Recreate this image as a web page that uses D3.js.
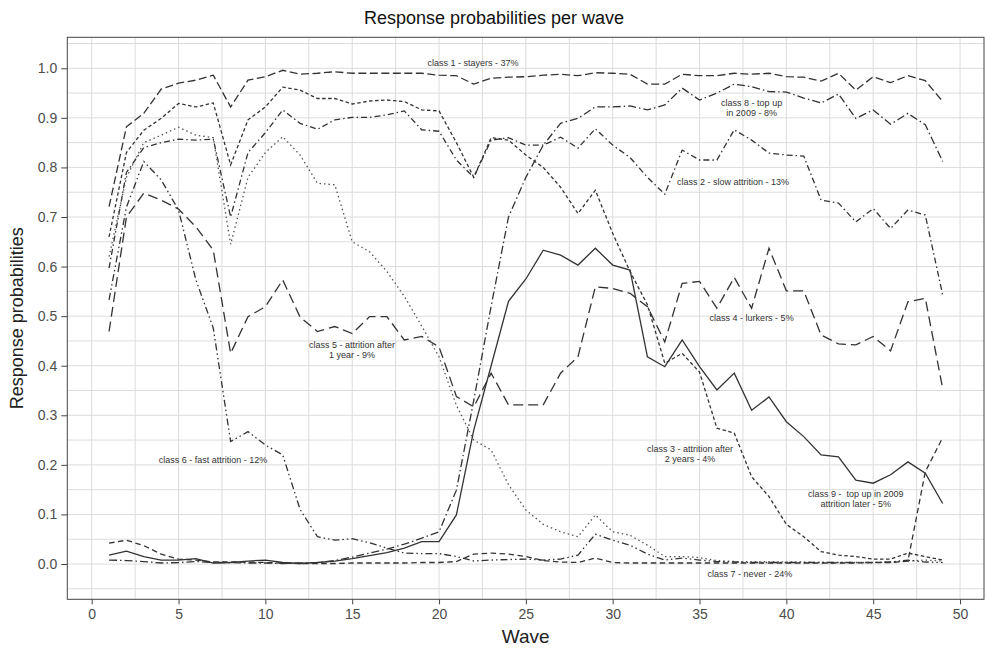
<!DOCTYPE html>
<html><head><meta charset="utf-8">
<script src="https://cdn.jsdelivr.net/npm/d3@7"></script>
<style>body{margin:0;background:#fff}svg{display:block}</style>
</head><body>
<svg id="chart" width="988" height="654"></svg>
<script>
// ---------- data ----------
const waves = [1,2,3,4,5,6,7,8,9,10,11,12,13,14,15,16,17,18,19,20,21,22,23,24,25,26,27,28,29,30,31,32,33,34,35,36,37,38,39,40,41,42,43,44,45,46,47,48,49];
const class1 = [0.721,0.882,0.909,0.958,0.970,0.976,0.986,0.922,0.976,0.983, 0.996,0.988,0.990,0.993,0.990,0.990,0.990,0.990,0.990,0.986, 0.985,0.968,0.980,0.982,0.983,0.986,0.988,0.985,0.991,0.990, 0.988,0.968,0.968,0.988,0.985,0.985,0.990,0.988,0.990,0.983, 0.982,0.974,0.990,0.956,0.983,0.971,0.985,0.975,0.933];
const class2 = [0.597,0.790,0.840,0.850,0.857,0.855,0.857,0.700,0.830,0.870, 0.916,0.889,0.877,0.896,0.901,0.901,0.906,0.914,0.876,0.873, 0.815,0.780,0.855,0.860,0.845,0.845,0.861,0.839,0.878,0.845, 0.820,0.780,0.746,0.835,0.815,0.815,0.876,0.855,0.829,0.825, 0.823,0.734,0.728,0.690,0.717,0.677,0.714,0.704,0.543];
const class3 = [0.660,0.830,0.875,0.899,0.929,0.922,0.930,0.805,0.896,0.922, 0.962,0.956,0.939,0.939,0.928,0.934,0.936,0.933,0.916,0.914, 0.850,0.780,0.860,0.855,0.825,0.800,0.760,0.707,0.754,0.667, 0.590,0.523,0.405,0.425,0.387,0.274,0.264,0.176,0.136,0.080, 0.055,0.025,0.018,0.015,0.010,0.010,0.022,0.015,0.008];
const class4 = [0.469,0.700,0.748,0.734,0.716,0.680,0.633,0.425,0.499,0.519, 0.573,0.498,0.469,0.479,0.465,0.499,0.499,0.452,0.459,0.438, 0.338,0.317,0.385,0.321,0.321,0.321,0.385,0.418,0.559,0.556, 0.546,0.519,0.448,0.566,0.570,0.516,0.578,0.516,0.637,0.551, 0.551,0.462,0.444,0.442,0.459,0.430,0.529,0.536,0.354];
const class5 = [0.620,0.780,0.850,0.865,0.881,0.865,0.860,0.645,0.780,0.830, 0.862,0.825,0.768,0.765,0.650,0.630,0.590,0.540,0.480,0.418, 0.320,0.250,0.230,0.160,0.109,0.080,0.065,0.055,0.099,0.065, 0.058,0.038,0.015,0.015,0.013,0.007,0.005,0.005,0.005,0.004, 0.004,0.003,0.003,0.003,0.003,0.004,0.006,0.008,0.006];
const class6 = [0.533,0.720,0.812,0.775,0.714,0.573,0.476,0.247,0.267,0.240, 0.220,0.110,0.055,0.048,0.051,0.043,0.032,0.022,0.021,0.021, 0.015,0.006,0.008,0.009,0.010,0.008,0.010,0.018,0.060,0.048, 0.038,0.020,0.008,0.012,0.008,0.005,0.004,0.003,0.003,0.003, 0.003,0.003,0.003,0.003,0.003,0.004,0.008,0.004,0.003];
const class7 = [0.042,0.048,0.037,0.020,0.010,0.008,0.004,0.004,0.004,0.003, 0.002,0.001,0.001,0.001,0.002,0.002,0.002,0.002,0.003,0.003, 0.005,0.020,0.022,0.020,0.015,0.007,0.004,0.003,0.012,0.003, 0.002,0.002,0.002,0.002,0.002,0.002,0.002,0.002,0.002,0.002, 0.002,0.002,0.002,0.002,0.003,0.003,0.006,0.186,0.255];
const class8 = [0.008,0.007,0.005,0.002,0.003,0.005,0.003,0.003,0.002,0.002, 0.001,0.002,0.003,0.007,0.014,0.022,0.030,0.040,0.052,0.065, 0.149,0.330,0.520,0.700,0.780,0.845,0.889,0.899,0.922,0.922, 0.924,0.916,0.926,0.960,0.936,0.950,0.968,0.963,0.953,0.952, 0.940,0.930,0.948,0.899,0.916,0.887,0.909,0.886,0.812];
const class9 = [0.018,0.026,0.015,0.008,0.008,0.011,0.002,0.003,0.006,0.008, 0.003,0.001,0.003,0.006,0.011,0.017,0.023,0.032,0.045,0.045, 0.099,0.270,0.400,0.530,0.575,0.633,0.623,0.603,0.637,0.603, 0.593,0.418,0.398,0.452,0.398,0.351,0.385,0.310,0.337,0.287, 0.257,0.220,0.216,0.169,0.163,0.180,0.206,0.183,0.122];

const seriesNames = ["class1","class2","class3","class4","class5","class6","class7","class8","class9"];
const seriesValues = [class1,class2,class3,class4,class5,class6,class7,class8,class9];
const xTicks = [0,5,10,15,20,25,30,35,40,45,50];
const yTicks = [0.0,0.1,0.2,0.3,0.4,0.5,0.6,0.7,0.8,0.9,1.0];

// annotation texts (anchored in data coordinates)
const labelText = [
  ["class 1 - stayers - 37%"],
  ["class 8 - top up","in 2009 - 8%"],
  ["class 2 - slow attrition - 13%"],
  ["class 4 - lurkers - 5%"],
  ["class 5 - attrition after","1 year - 9%"],
  ["class 6 - fast attrition - 12%"],
  ["class 3 - attrition after","2 years - 4%"],
  ["class 9 -  top up in 2009","attrition later - 5%"],
  ["class 7 - never - 24%"]
];
const labelWave = [21.96, 38.0, 36.93, 38.0, 14.99, 6.98, 34.45, 44.0, 37.9];
const labelProb = [1.009, 0.928, 0.769, 0.496, 0.440, 0.208, 0.230, 0.139, -0.022];

// ---------- styles ----------
const dashes = {
  class1: "8,3.5",
  class2: "6,3,1.5,3",
  class3: "3.5,2.5",
  class4: "10,5",
  class5: "1.5,3",
  class6: "7,3,1.5,3,1.5,3",
  class7: "5.5,3.5",
  class8: "8,3,1.5,3",
  class9: null
};
const strokes = {
  class1:"#333", class2:"#333", class3:"#333", class4:"#333", class5:"#555",
  class6:"#333", class7:"#333", class8:"#333", class9:"#333"
};

// ---------- layout ----------
const svg = d3.select("#chart");
const L = 67.3, R = 984, T = 37.3, B = 599.3;
const x = d3.scaleLinear().domain([-1.405, 51.38]).range([L, R]);
const y = d3.scaleLinear().domain([-0.0712, 1.0625]).range([B, T]);

svg.append("rect").attr("width",988).attr("height",654).attr("fill","#fff");

// grid
const g = svg.append("g");
const xGrid = d3.range(0, 50.01, 2.5);
const yGrid = d3.range(-0.05, 1.051, 0.05);
g.selectAll(".vg").data(xGrid).enter().append("line")
  .attr("x1", d=>x(d)).attr("x2", d=>x(d)).attr("y1", T).attr("y2", B)
  .attr("stroke","#dcdcdc").attr("stroke-width",1);
g.selectAll(".hg").data(yGrid).enter().append("line")
  .attr("x1", L).attr("x2", R).attr("y1", d=>y(d)).attr("y2", d=>y(d))
  .attr("stroke","#dcdcdc").attr("stroke-width",1);

// lines
const line = d3.line().x((d,i)=>x(waves[i])).y(d=>y(d));
seriesNames.forEach((name, k) => {
  svg.append("path").datum(seriesValues[k])
    .attr("d", line)
    .attr("fill","none")
    .attr("stroke", strokes[name])
    .attr("stroke-width", 1.3)
    .attr("stroke-dasharray", dashes[name]);
});

// panel border
svg.append("rect").attr("x",L).attr("y",T).attr("width",R-L).attr("height",B-T)
  .attr("fill","none").attr("stroke","#444").attr("stroke-width",1);

// axes
const xAxis = d3.axisBottom(x).tickValues(xTicks).tickSize(5).tickPadding(5).tickFormat(d3.format("d"));
const yAxis = d3.axisLeft(y).tickValues(yTicks).tickSize(6).tickPadding(4).tickFormat(d3.format(".1f"));
const gx = svg.append("g").attr("transform",`translate(0,${B})`).call(xAxis);
const gy = svg.append("g").attr("transform",`translate(${L},0)`).call(yAxis);
[gx,gy].forEach(a=>{
  a.select(".domain").remove();
  a.selectAll(".tick line").attr("stroke","#444");
  a.selectAll("text").attr("fill","#4d4d4d").style("font-family","Liberation Sans, Arial, sans-serif").style("font-size","14px");
});

// annotations
const ann = svg.append("g").style("font-family","Liberation Sans, Arial, sans-serif").style("font-size","9px").attr("fill","#333");
labelText.forEach((lines, k) => {
  lines.forEach((t, j) => {
    ann.append("text")
      .attr("x", x(labelWave[k]))
      .attr("y", y(labelProb[k]) + j*10)
      .attr("text-anchor","middle")
      .attr("dominant-baseline","middle")
      .style("white-space","pre")
      .text(t);
  });
});

// titles
svg.append("text").attr("x",494).attr("y",24).attr("text-anchor","middle")
  .style("font-family","Liberation Sans, Arial, sans-serif").style("font-size","18px").attr("fill","#111")
  .text("Response probabilities per wave");
svg.append("text").attr("x",(L+R)/2).attr("y",643).attr("text-anchor","middle")
  .style("font-family","Liberation Sans, Arial, sans-serif").style("font-size","19px").attr("fill","#222")
  .text("Wave");
svg.append("text").attr("transform",`translate(23,${(T+B)/2}) rotate(-90)`).attr("text-anchor","middle")
  .style("font-family","Liberation Sans, Arial, sans-serif").style("font-size","18px").attr("fill","#222")
  .text("Response probabilities");
</script>
</body></html>
